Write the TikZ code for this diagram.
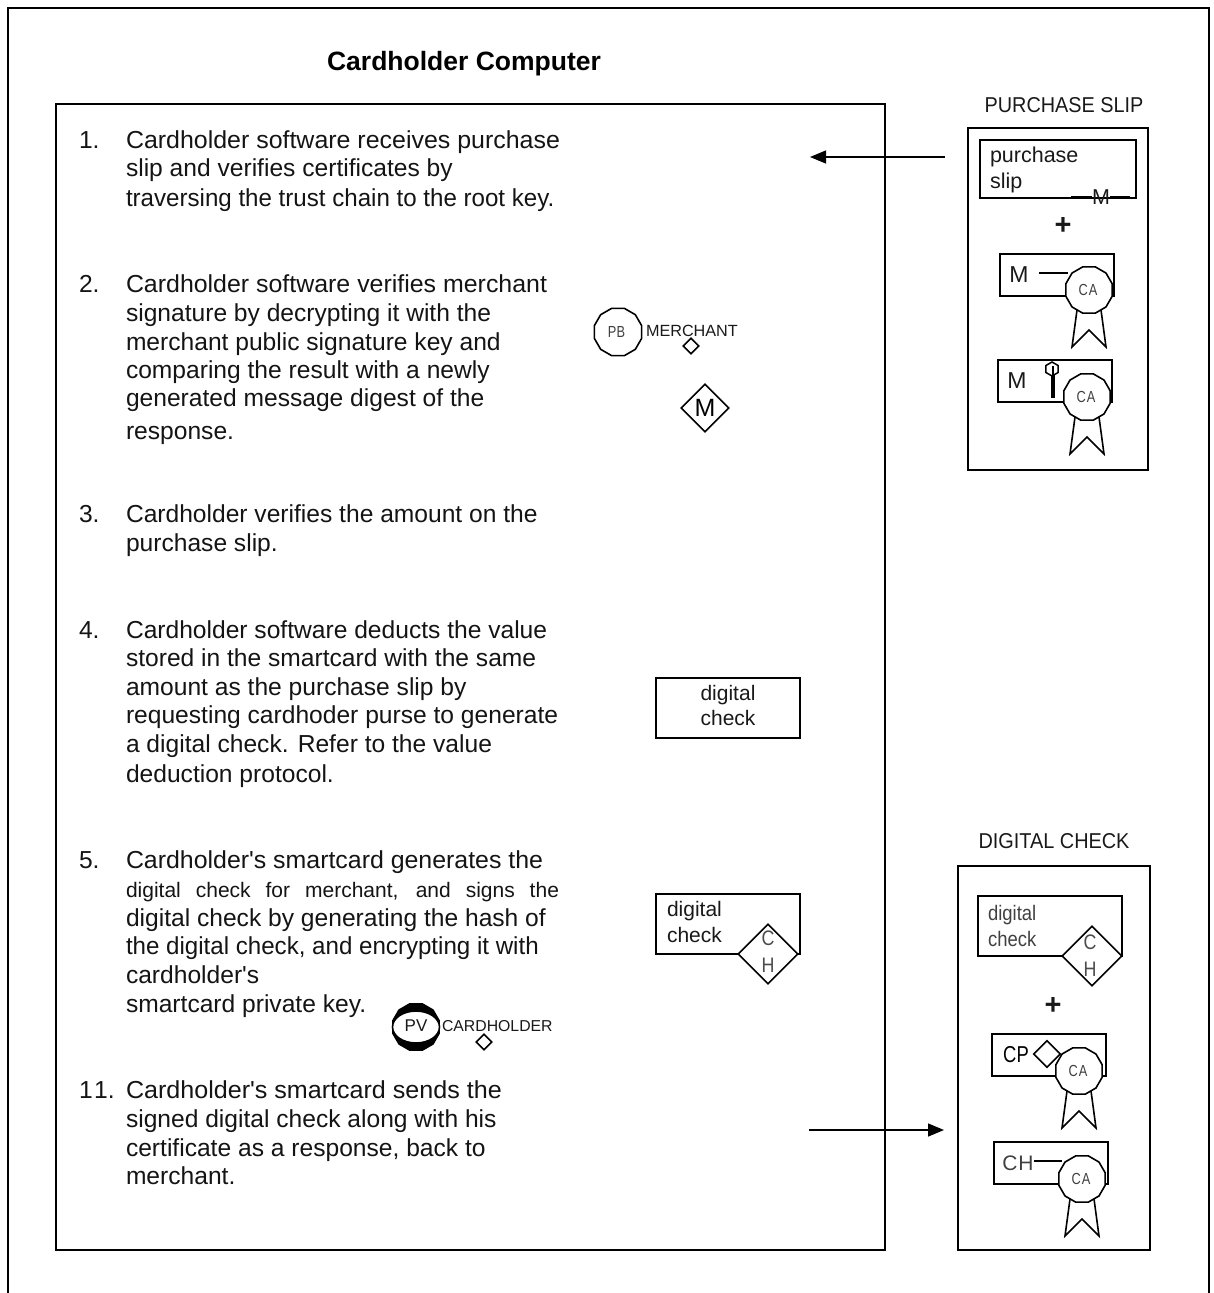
\documentclass[tikz,border=0pt]{standalone}
\usepackage{fontspec}
\setmainfont{Liberation Sans}
\newfontfamily\plainf{Liberation Sans}
\usetikzlibrary{arrows.meta,shapes.geometric}
\tikzset{
  x=1pt,y=-1pt,
  frame/.style={draw=black,line width=1.6pt,fill=none},
  box/.style={draw=black,line width=1.6pt,fill=none},
  tline/.style={anchor=base west,inner sep=0pt,outer sep=0pt,font=\plainf\fontsize{24.6}{24.6}\selectfont,text=black!92},
  lab/.style={inner sep=0pt,outer sep=0pt,text=black!90},
  blab/.style={anchor=base west,inner sep=0pt,outer sep=0pt,text=black!90,font=\fontsize{21.5}{21.5}\selectfont},
  seal/.style={draw=black,line width=1.6pt,fill=white,regular polygon,regular polygon sides=12,inner sep=0pt,minimum size=#1,font=\fontsize{16}{16}\selectfont,text=black!75},
  dia/.style={draw=black,line width=1.6pt,fill=white,diamond,aspect=1,inner sep=0pt,minimum size=#1},
  arr/.style={draw=black,line width=1.4pt,-{Triangle[length=16pt,width=13pt]}},
}
\newcommand\tl[4]{\node[tline] (#1) at (#2,#3+8) {#4};}
% name, seal centre x, y
\newcommand\cabadge[3]{%
  \draw[line width=1.6pt,line join=miter] (#2-12,#3+20) -- (#2-17,#3+57) -- (#2,#3+40) -- (#2+17,#3+57) -- (#2+12,#3+20);
  \node[seal=48pt] (#1) at (#2,#3) {\hspace*{-2pt}\scalebox{.8}[1]{C\hspace{1.5pt}A}};}
\begin{document}
\begin{tikzpicture}
\useasboundingbox (0,0) rectangle (1214,1293);
\draw[frame] (8,1293) -- (8,8) -- (1209,8) -- (1209,1293);
\node[lab,text=black,font=\fontsize{26.5}{26.5}\selectfont\bfseries] (title) at (464,64) {Cardholder Computer};
\draw[box] (56,104) rectangle (885,1250);
\coordinate (slipFrom) at (945,157);
\coordinate (slipTo) at (810,157);
\draw[arr] (slipFrom) -- (slipTo);
\coordinate (checkFrom) at (809,1130);
\coordinate (checkTo) at (944,1130);
\draw[arr] (checkFrom) -- (checkTo);

\tl{n1}{79}{140}{1.}
\tl{a1}{126}{140}{\scalebox{1.014}[1]{Cardholder software receives purchase}}
\tl{a2}{126}{168}{slip and verifies certificates by}
\tl{a3}{126}{198}{\scalebox{.98}[1]{traversing the trust chain to the root key.}}
\tl{n2}{79}{284}{2.}
\tl{b1}{126}{284}{\scalebox{1.013}[1]{Cardholder software verifies merchant}}
\tl{b2}{126}{313}{signature by decrypting it with the}
\tl{b3}{126}{342}{merchant public signature key and}
\tl{b4}{126}{370}{comparing the result with a newly}
\tl{b5}{126}{398}{generated message digest of the}
\tl{b6}{126}{431}{response.}
\tl{n3}{79}{514}{3.}
\tl{c1}{126}{514}{Cardholder verifies the amount on the}
\tl{c2}{126}{543}{purchase slip.}
\tl{n4}{79}{630}{4.}
\tl{d1}{126}{630}{Cardholder software deducts the value}
\tl{d2}{126}{658}{stored in the smartcard with the same}
\tl{d3}{126}{687}{amount as the purchase slip by}
\tl{d4}{126}{715}{requesting cardhoder purse to generate}
\tl{d5}{126}{744}{a digital check. Refer to the value}
\tl{d6}{126}{774}{deduction protocol.}
\tl{n5}{79}{860}{5.}
\tl{e1}{126}{860}{\scalebox{1.012}[1]{Cardholder's smartcard generates the}}
\tl{e2}{126}{889}{\makebox[433pt][s]{\fontsize{21}{21}\selectfont digital check for merchant, and signs the}}
\tl{e3}{126}{918}{digital check by generating the hash of}
\tl{e4}{126}{946}{\scalebox{.98}[1]{the digital check, and encrypting it with}}
\tl{e5}{126}{975}{cardholder's}
\tl{e6}{126}{1004}{smartcard private key.}
\tl{n6}{79}{1090}{1\hspace{1.5pt}1.}
\tl{f1}{126}{1090}{\scalebox{1.02}[1]{Cardholder's smartcard sends the}}
\tl{f2}{126}{1119}{signed digital check along with his}
\tl{f3}{126}{1148}{certificate as a response, back to}
\tl{f4}{126}{1176}{merchant.}

% merchant key and signature
\node[seal=49pt] (pb) at (618,332) {\hspace*{-3pt}\scalebox{.8}[1]{PB}};
\node[lab,anchor=west,font=\fontsize{16.2}{16.2}\selectfont] (merch) at (646,331) {MERCHANT};
\node[dia=16pt] (merchd) at (691,346) {};
\node[dia=48pt,font=\fontsize{25}{25}\selectfont] (msig) at (705,408) {M};

% digital check boxes
\draw[box] (656,678) rectangle (800,738);
\node[blab,anchor=base,font=\fontsize{21}{21}\selectfont] (dc1a) at (728,700) {digital};
\node[blab,anchor=base,font=\fontsize{21}{21}\selectfont] (dc1b) at (728,725) {check};
\draw[box] (656,894) rectangle (800,954);
\node[blab,font=\fontsize{21}{21}\selectfont] (dc2a) at (667,916) {digital};
\node[blab,font=\fontsize{21}{21}\selectfont] (dc2b) at (667,942) {check};
\node[dia=60pt] (dc2d) at (768,954) {};
\node[lab,font=\fontsize{21}{21}\selectfont,text=black!70] (dc2c) at (768,938) {\scalebox{.85}[1]{C}};
\node[lab,font=\fontsize{21}{21}\selectfont,text=black!70] (dc2h) at (768,965) {\scalebox{.85}[1]{H}};

% cardholder key
\node[seal=48pt,fill=black] (pv) at (416,1027) {};
\node[draw=black,line width=1.6pt,fill=white,ellipse,minimum width=47pt,minimum height=32pt,inner sep=0pt] (pvo) at (416,1027) {};
\node[lab,font=\fontsize{17}{17}\selectfont] (pvt) at (416,1026) {PV};
\node[lab,anchor=west,font=\fontsize{15.8}{15.8}\selectfont] (chl) at (442,1026) {CARDHOLDER};
\node[dia=16pt] (chd) at (484,1042) {};

% purchase slip panel
\node[lab,font=\fontsize{21.5}{21.5}\selectfont] (pst) at (1064,105) {\scalebox{.923}[1]{PURCHASE SLIP}};
\draw[box] (968,128) rectangle (1148,470);
\draw[box] (980,140) rectangle (1136,198);
\node[blab] (ps1) at (990,162) {purchase};
\node[blab] (ps2) at (990,188) {slip};
\node[lab,font=\fontsize{21.5}{21.5}\selectfont] (psm) at (1101,197) {M};
\draw[line width=1.3pt] (1071,197) -- (psm.west);
\draw[line width=1.3pt] (psm.east) -- (1130,197);
\node[lab,font=\fontsize{29}{29}\selectfont\bfseries] (psp) at (1063,226) {+};
\draw[box] (1000,254) rectangle (1114,296);
\node[lab,font=\fontsize{23}{23}\selectfont] (psm1) at (1019,275) {M};
\draw[line width=2.4pt] (1039,273) -- (1068,273);
\cabadge{psb1}{1089}{290}
\draw[box] (998,360) rectangle (1112,402);
\node[lab,font=\fontsize{23}{23}\selectfont] (psm2) at (1017,381) {M};
\draw[line width=3.6pt] (1053,375) -- (1053,398);
\node[draw=black,line width=1.5pt,fill=white,regular polygon,regular polygon sides=6,shape border rotate=30,inner sep=0pt,minimum size=14pt] (pskey) at (1052,369) {};
\draw[line width=1.4pt] (pskey.center) ++(1,-3) -- ++(0,9);
\cabadge{psb2}{1087}{397}

% digital check panel
\node[lab,font=\fontsize{21.5}{21.5}\selectfont] (dct) at (1054,841) {\scalebox{.925}[1]{DIGITAL CHECK}};
\draw[box] (958,866) rectangle (1150,1250);
\draw[box] (978,896) rectangle (1122,956);
\node[blab,font=\fontsize{21}{21}\selectfont,text=black!75] (dcp1) at (988,920) {\scalebox{.88}[1]{digital}};
\node[blab,font=\fontsize{21}{21}\selectfont,text=black!75] (dcp2) at (988,946) {\scalebox{.88}[1]{check}};
\node[dia=60pt] (dcpd) at (1092,956) {};
\node[lab,font=\fontsize{21}{21}\selectfont,text=black!70] (dcpc) at (1090,942) {\scalebox{.85}[1]{C}};
\node[lab,font=\fontsize{21}{21}\selectfont,text=black!70] (dcph) at (1090,969) {\scalebox{.85}[1]{H}};
\node[lab,font=\fontsize{29}{29}\selectfont\bfseries] (dcpp) at (1053,1006) {+};
\draw[box] (992,1034) rectangle (1106,1076);
\node[lab,text=black,font=\fontsize{23}{23}\selectfont] (cpt) at (1016,1055) {\scalebox{.8}[1]{CP}};
\node[dia=27pt] (cpd) at (1047,1054) {};
\cabadge{dcb1}{1079}{1071}
\draw[box] (994,1142) rectangle (1108,1184);
\node[lab,font=\fontsize{21}{21}\selectfont,text=black!75] (cht) at (1018,1163) {C\hspace{1pt}H};
\draw[line width=2.4pt] (1034,1161) -- (1062,1161);
\cabadge{dcb2}{1082}{1179}
\end{tikzpicture}
\end{document}
